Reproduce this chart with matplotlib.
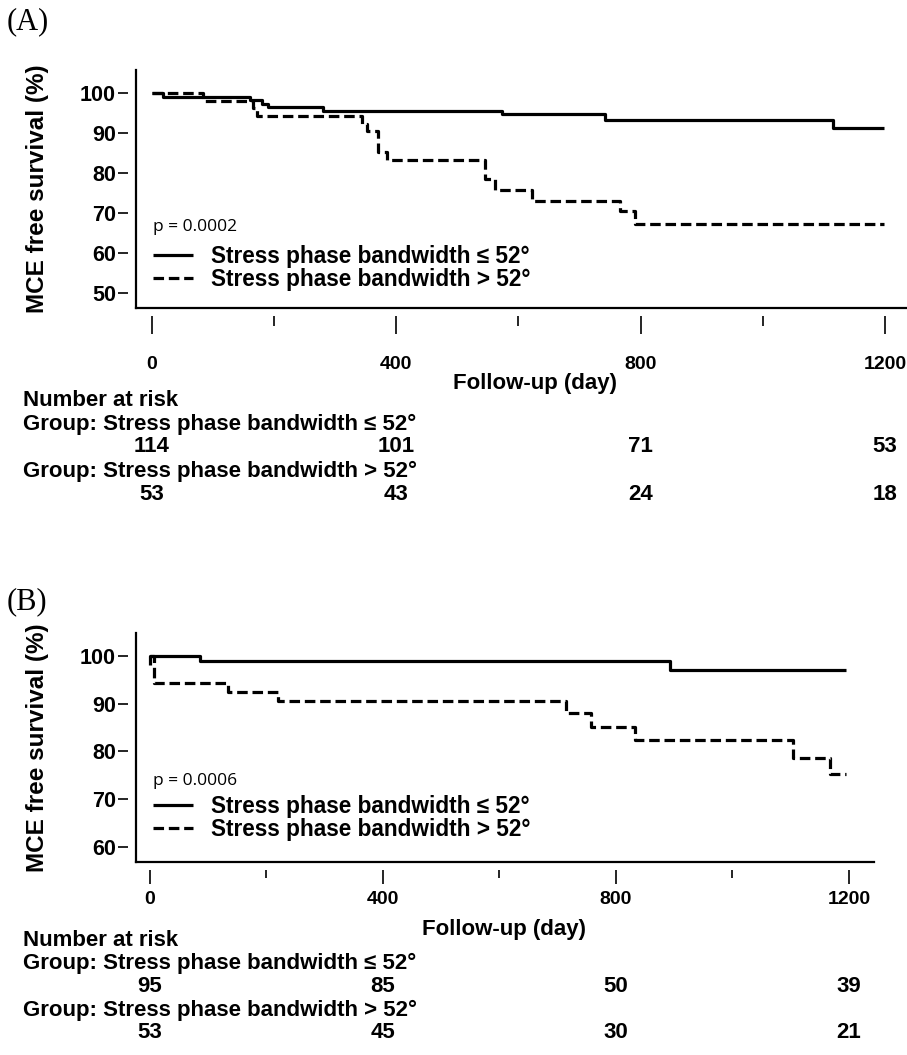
import matplotlib
matplotlib.use('Agg')
import matplotlib.pyplot as plt
from matplotlib import transforms
from matplotlib.ticker import FixedLocator, NullFormatter

# ---------------- data ----------------
A_low_days = [0, 18, 160, 180, 190, 280, 573, 741, 1115, 1198]
A_low_surv = [100, 99.1, 98.2, 97.4, 96.5, 95.6, 94.7, 93.3, 91.4, 91.4]
A_high_days = [0, 84, 165, 172, 344, 352, 370, 385, 545, 561, 622, 766, 790, 1198]
A_high_surv = [100, 98.1, 96.2, 94.3, 92.4, 90.5, 85.4, 83.3, 78.5, 75.8, 72.9, 70.4, 67.3, 67.3]

B_low_days = [0, 0, 86, 893, 1195]
B_low_surv = [98.2, 100, 98.9, 97.0, 97.0]
B_high_days = [0, 7, 134, 220, 715, 758, 833, 1104, 1167, 1195]
B_high_surv = [100, 94.3, 92.4, 90.5, 88.0, 85.2, 82.4, 78.7, 75.2, 75.2]

group_labels = ['Stress phase bandwidth \u2264 52\u00b0', 'Stress phase bandwidth > 52\u00b0']
risk_days = [0, 400, 800, 1200]
A_risk_low = [114, 101, 71, 53]
A_risk_high = [53, 43, 24, 18]
B_risk_low = [95, 85, 50, 39]
B_risk_high = [53, 45, 30, 21]
p_texts = ['p = 0.0002', 'p = 0.0006']
panel_labels = ['(A)', '(B)']
x_major = [0, 400, 800, 1200]
x_minor = [200, 600, 1000]
A_yticks = [50, 60, 70, 80, 90, 100]
B_yticks = [60, 70, 80, 90, 100]

# ---------------- style ----------------
W, H = 907, 1055
PT = 0.72  # points per pixel at dpi 100
NARROW = ['Liberation Sans Narrow', 'Liberation Sans', 'DejaVu Sans']
SANS = ['Liberation Sans', 'DejaVu Sans']

fig = plt.figure(figsize=(W / 100, H / 100), dpi=100)
fig.patch.set_facecolor('white')


def rect(l, t, r, b):
    return [l / W, 1 - b / H, (r - l) / W, (b - t) / H]


panels = [
    dict(rect=rect(136, 70, 906, 308), xlim=(-26.2, 1234.4), ylim=(46.25, 105.8),
         yticks=A_yticks, low=(A_low_days, A_low_surv), high=(A_high_days, A_high_surv),
         risk=(A_risk_low, A_risk_high), xmaj_len=18, xpad=22,
         label_y=22, p_y=227, leg_y=244.5, xlabel=(535, 383),
         rows=[401, 424, 447, 471, 494]),
    dict(rect=rect(136, 633, 874, 862), xlim=(-24.0, 1243.0), ylim=(56.85, 104.8),
         yticks=B_yticks, low=(B_low_days, B_low_surv), high=(B_high_days, B_high_surv),
         risk=(B_risk_low, B_risk_high), xmaj_len=14, xpad=7.5,
         label_y=602, p_y=781, leg_y=794.5, xlabel=(504, 929),
         rows=[940, 963, 987, 1010, 1033]),
]

dash = (0, (3.3, 1.5))

for i, cfg in enumerate(panels):
    ax = fig.add_axes(cfg['rect'])
    ax.set_facecolor('white')
    ax.set_xlim(*cfg['xlim'])
    ax.set_ylim(*cfg['ylim'])

    l1, = ax.step(cfg['low'][0], cfg['low'][1], where='post', color='black',
                  lw=2.3, solid_capstyle='butt', zorder=3)
    l2, = ax.step(cfg['high'][0], cfg['high'][1], where='post', color='black',
                  lw=2.3, linestyle=dash, dash_capstyle='butt', zorder=2)

    # detached ticks: spines pushed outward and hidden, axis lines drawn at edge
    for s in ['top', 'right']:
        ax.spines[s].set_visible(False)
    for s in ['left', 'bottom']:
        ax.spines[s].set_position(('outward', 8 * PT))
        ax.spines[s].set_color('none')
    ax.plot([0, 0], [0, 1], transform=ax.transAxes, color='black', lw=1.6,
            clip_on=False, solid_capstyle='projecting')
    ax.plot([0, 1], [0, 0], transform=ax.transAxes, color='black', lw=1.6,
            clip_on=False, solid_capstyle='projecting')

    ax.yaxis.set_major_locator(FixedLocator(cfg['yticks']))
    ax.xaxis.set_major_locator(FixedLocator(x_major))
    ax.xaxis.set_minor_locator(FixedLocator(x_minor))
    ax.xaxis.set_minor_formatter(NullFormatter())
    ax.tick_params(axis='y', length=10 * PT, width=1.2, pad=1.5, labelsize=15.5)
    ax.tick_params(axis='x', which='major', length=cfg['xmaj_len'] * PT, width=1.2,
                   pad=cfg['xpad'] * PT, labelsize=14)
    ax.tick_params(axis='x', which='minor', length=cfg['xmaj_len'] * 0.55 * PT, width=1.2)
    for t in ax.get_yticklabels():
        t.set_fontweight('bold')
        t.set_fontfamily(SANS)
    for t in ax.get_xticklabels():
        t.set_fontweight('bold')
        t.set_fontfamily(NARROW)

    ax.set_ylabel('MCE free survival (%)', fontsize=17.5, fontweight='bold', family=SANS)
    ax.yaxis.set_label_coords(49 / W, 0.5,
                              transform=transforms.blended_transform_factory(fig.transFigure, ax.transAxes))
    ax.set_xlabel('Follow-up (day)', fontsize=16, fontweight='bold', family=NARROW, va='center')
    ax.xaxis.set_label_coords(cfg['xlabel'][0] / W, 1 - cfg['xlabel'][1] / H,
                              transform=fig.transFigure)

    # p value and legend
    fig.text(153 / W, 1 - cfg['p_y'] / H, p_texts[i], family=['Open Sans', 'DejaVu Sans'],
             fontsize=12.5, va='center', ha='left')
    ax.legend([l1, l2], group_labels, loc='upper left',
              bbox_to_anchor=(153 / W, 1 - cfg['leg_y'] / H), bbox_transform=fig.transFigure,
              frameon=False, prop=dict(family=SANS, weight='bold', size=16.3),
              handlelength=1.78, handletextpad=0.8, labelspacing=0.03,
              borderpad=0, borderaxespad=0)

    # panel label
    fig.text(7 / W, 1 - cfg['label_y'] / H, panel_labels[i], family=['Liberation Serif', 'DejaVu Serif'],
             fontsize=22, va='center', ha='left')

    # number at risk table
    rows = cfg['rows']
    bt = transforms.blended_transform_factory(ax.transData, fig.transFigure)
    tkw = dict(fontsize=16, fontweight='bold', family=NARROW, va='center')
    fig.text(23 / W, 1 - rows[0] / H, 'Number at risk', ha='left', **tkw)
    fig.text(23 / W, 1 - rows[1] / H, 'Group: ' + group_labels[0], ha='left', **tkw)
    fig.text(23 / W, 1 - rows[3] / H, 'Group: ' + group_labels[1], ha='left', **tkw)
    for d, n in zip(risk_days, cfg['risk'][0]):
        ax.text(d, 1 - rows[2] / H, str(n), transform=bt, ha='center', clip_on=False, **tkw)
    for d, n in zip(risk_days, cfg['risk'][1]):
        ax.text(d, 1 - rows[4] / H, str(n), transform=bt, ha='center', clip_on=False, **tkw)

fig.savefig('out.png', dpi=100, facecolor='white')
